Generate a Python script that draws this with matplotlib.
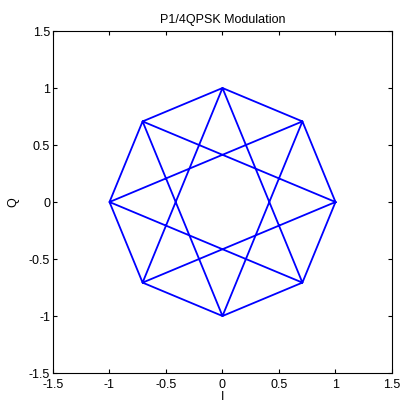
import matplotlib
matplotlib.use('Agg')
import matplotlib.pyplot as plt

plt.rcParams['font.family'] = ['Liberation Sans', 'DejaVu Sans']
plt.rcParams['font.size'] = 9

# pi/4-QPSK symbol trajectory: octagon walk then the 135-degree transitions
i_vals = [1, 0.7071, 0, -0.7071, -1, -0.7071, 0, 0.7071, 1,
          -0.7071, 0, 0.7071, -1, 0.7071, 0, -0.7071, 1]
q_vals = [0, 0.7071, 1, 0.7071, 0, -0.7071, -1, -0.7071, 0,
          0.7071, -1, 0.7071, 0, -0.7071, 1, -0.7071, 0]
ticks = [-1.5, -1, -0.5, 0, 0.5, 1, 1.5]
tick_labels = ['-1.5', '-1', '-0.5', '0', '0.5', '1', '1.5']

fig = plt.figure(figsize=(4.03, 4.05), dpi=100)
ax = fig.add_axes([0.1315, 0.079, 0.8412, 0.8444])
ax.plot(i_vals, q_vals, color='#0000ff', linewidth=1.3)

ax.set_xlim(-1.5, 1.5)
ax.set_ylim(-1.5, 1.5)
ax.set_xticks(ticks)
ax.set_xticklabels(tick_labels)
ax.set_yticks(ticks)
ax.set_yticklabels(tick_labels)
ax.tick_params(direction='in', top=True, right=True, length=3, width=0.8)
ax.tick_params(axis='x', pad=4)
ax.tick_params(axis='y', pad=2)
for s in ax.spines.values():
    s.set_linewidth(0.8)

ax.set_title('P1/4QPSK Modulation', fontsize=9, pad=6)
ax.set_xlabel('I', labelpad=0)
ax.set_ylabel('Q', labelpad=7)

fig.savefig('out.png', dpi=100)
